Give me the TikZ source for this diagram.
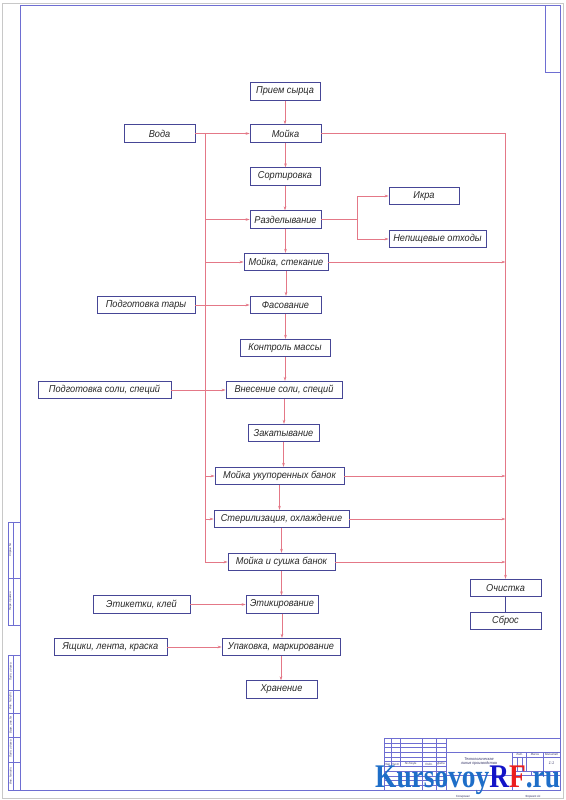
\documentclass[tikz,border=0pt]{standalone}
\usepackage{fontspec}
\setmainfont{Liberation Sans}
\newfontfamily\gost[FakeStretch=0.92]{Liberation Sans}
\newfontfamily\wmfont{Liberation Serif}
\usetikzlibrary{arrows.meta}
\definecolor{boxc}{RGB}{70,70,150}
\definecolor{linec}{RGB}{228,120,135}
\definecolor{framec}{RGB}{110,110,210}
\definecolor{txtc}{RGB}{40,40,40}
\definecolor{sheetc}{RGB}{200,200,200}
\definecolor{wmblue}{RGB}{30,110,200}
\definecolor{wmdark}{RGB}{20,20,200}
\definecolor{wmred}{RGB}{235,30,30}
\begin{document}
\begin{tikzpicture}[x=1pt,y=-1pt,
 blk/.style={draw=boxc,line width=0.7pt,minimum height=17.5pt,inner sep=0pt,
   font=\gost\itshape\fontsize{10}{10}\selectfont,text=txtc},
 flow/.style={draw=linec,line width=0.6pt},
 arr/.style={flow,-{Stealth[length=4pt,width=2.6pt]}},
 frm/.style={draw=framec,line width=0.8pt},
 thn/.style={draw=framec,line width=0.4pt},
 tiny/.style={font=\gost\itshape\fontsize{3}{3}\selectfont,text=framec!50!black,inner sep=0pt},
 small/.style={font=\gost\itshape\fontsize{4}{4}\selectfont,text=framec!50!black,inner sep=0pt}]
\useasboundingbox (0,0) rectangle (565,800);
\fill[white] (0,0) rectangle (565,800);
% sheet edge and frame
\draw[sheetc,line width=0.5pt] (2,3) rectangle (563,798);
\draw[frm] (20,5) rectangle (560,790);
\draw[frm] (545,5) rectangle (560,72);
% left margin strip
\draw[frm] (8,522) rectangle (20,625);
\draw[thn] (13,522) -- (13,625);
\draw[frm] (8,578) -- (20,578);
\draw[frm] (8,655) rectangle (20,790);
\draw[thn] (13,655) -- (13,790);
\foreach \yy in {690,713,737,762} \draw[frm] (8,\yy) -- (20,\yy);
\node[tiny,rotate=90] (s1) at (10.5,550) {Справ. №};
\node[tiny,rotate=90] (s2) at (10.5,601) {Перв. примен.};
\node[tiny,rotate=90] (s3) at (10.5,672) {Подп. и дата};
\node[tiny,rotate=90] (s4) at (10.5,701) {Инв. № дубл.};
\node[tiny,rotate=90] (s5) at (10.5,725) {Взам. инв. №};
\node[tiny,rotate=90] (s6) at (10.5,749) {Подп. и дата};
\node[tiny,rotate=90] (s7) at (10.5,776) {Инв. № подл.};
% title block
\draw[frm] (384,738) rectangle (560,790);
\draw[frm] (446,738) -- (446,790);
\foreach \k in {1,...,10} \draw[thn] (384,{738+\k*4.727}) -- (446,{738+\k*4.727});
\draw[frm] (384,761.6) -- (446,761.6);
\draw[frm] (384,766.4) -- (446,766.4);
\foreach \xx in {391,400} \draw[frm] (\xx,738) -- (\xx,766.4);
\foreach \xx in {422,436} \draw[frm] (\xx,738) -- (\xx,790);
\draw[frm] (446,752.2) -- (560,752.2);
\draw[frm] (446,775.8) -- (560,775.8);
\draw[frm] (512.5,752.2) -- (512.5,790);
\draw[frm] (512.5,756.9) -- (560,756.9);
\draw[frm] (512.5,771.1) -- (560,771.1);
\draw[frm] (526.8,752.2) -- (526.8,771.1);
\draw[frm] (543,752.2) -- (543,771.1);
\draw[thn] (517.3,756.9) -- (517.3,771.1);
\draw[thn] (522.1,756.9) -- (522.1,771.1);
\draw[frm] (531.5,771.1) -- (531.5,775.8);
\node[tiny] (h1) at (387.5,764) {Изм.};
\node[tiny] (h2) at (395.5,764) {Лист};
\node[tiny] (h3) at (411,764) {№ докум.};
\node[tiny] (h4) at (429,764) {Подп.};
\node[tiny] (h5) at (441,764) {Дата};
\node[tiny] (l1) at (519.6,754.6) {Лит.};
\node[tiny] (l2) at (534.9,754.6) {Масса};
\node[tiny] (l3) at (551.5,754.6) {Масштаб};
\node[small] (l4) at (551.5,763) {1:1};
\node[small,align=center] (nm) at (479,762) {Технологическая\\линия производства};
\node[tiny] (kop) at (463,797) {Копировал};
\node[tiny] (fmt) at (533,797) {Формат А1};
% process boxes
\node[blk,minimum width=70pt] (priem) at (285,91.5) {Прием сырца};
\node[blk,minimum width=71pt] (moika) at (285.5,133.5) {Мойка};
\node[blk,minimum width=71pt] (voda) at (159.5,133.5) {Вода};
\node[blk,minimum width=70pt] (sort) at (285,176.5) {Сортировка};
\node[blk,minimum width=71pt] (razd) at (285.5,219.5) {Разделывание};
\node[blk,minimum width=70pt] (ikra) at (424,196) {Икра};
\node[blk,minimum width=97pt] (nepish) at (437.5,239) {Непищевые отходы};
\node[blk,minimum width=84pt] (moikast) at (286,262) {Мойка, стекание};
\node[blk,minimum width=98pt] (podtary) at (146,305) {Подготовка тары};
\node[blk,minimum width=71pt] (fasov) at (285.5,305) {Фасование};
\node[blk,minimum width=90pt] (kontrol) at (285,348) {Контроль массы};
\node[blk,minimum width=133pt] (podsoli) at (104.5,390) {Подготовка соли, специй};
\node[blk,minimum width=116pt] (vnes) at (284,390) {Внесение соли, специй};
\node[blk,minimum width=71pt] (zakat) at (283.5,433) {Закатывание};
\node[blk,minimum width=129pt] (moikaukup) at (279.5,476) {Мойка укупоренных банок};
\node[blk,minimum width=135pt] (steril) at (281.5,519) {Стерилизация, охлаждение};
\node[blk,minimum width=107pt] (moikasush) at (281.5,562) {Мойка и сушка банок};
\node[blk,minimum width=72pt] (etikir) at (282,604.5) {Этикирование};
\node[blk,minimum width=97pt] (etiket) at (141.5,604.5) {Этикетки, клей};
\node[blk,minimum width=118pt] (upak) at (281,647) {Упаковка, маркирование};
\node[blk,minimum width=113pt] (yashik) at (110.5,647) {Ящики, лента, краска};
\node[blk,minimum width=71pt] (hran) at (281.5,689.5) {Хранение};
\node[blk,minimum width=71pt] (ochist) at (505.5,588) {Очистка};
\node[blk,minimum width=71pt] (sbros) at (505.5,621) {Сброс};
% main chain
\foreach \a/\b in {priem/moika,moika/sort,sort/razd,razd/moikast,moikast/fasov,fasov/kontrol,kontrol/vnes,vnes/zakat,zakat/moikaukup,moikaukup/steril,steril/moikasush,moikasush/etikir,etikir/upak,upak/hran}
  \draw[arr] (\a.south) -- (\a.south |- \b.north);
% side inputs
\draw[arr] (voda) -- (moika);
\draw[arr] (podtary) -- (fasov);
\draw[arr] (podsoli) -- (vnes);
\draw[arr] (etiket) -- (etikir);
\draw[arr] (yashik) -- (upak);
% water distribution line
\coordinate (lt) at (205,133.5);
\coordinate (lb) at (205,562);
\draw[flow] (lt) -- (lb);
\foreach \n in {razd,moikast,moikaukup,steril}
  \draw[arr] (\n.west -| lt) -- (\n.west);
\draw[arr] (lb) -- (moikasush.west);
% waste water line
\draw[arr] (moika.east) -| (ochist.north);
\foreach \n in {moikast,moikaukup,steril,moikasush}
  \draw[arr] (\n.east) -- (\n.east -| ochist.north);
\draw[draw=boxc,line width=0.7pt] (ochist) -- (sbros);
% cutting outputs
\coordinate (rb) at (357,219.5);
\draw[flow] (razd.east) -- (rb);
\draw[flow] (rb |- ikra.west) -- (rb |- nepish.west);
\draw[arr] (rb |- ikra.west) -- (ikra.west);
\draw[arr] (rb |- nepish.west) -- (nepish.west);
% watermark
\node[anchor=base west,inner sep=0pt] (wm) at (375,787)
  {\scalebox{0.83}[1]{\wmfont\bfseries\fontsize{33}{33}\selectfont\textcolor{wmblue}{Kursovoy}\textcolor{wmdark}{R}\textcolor{wmred}{F}\textcolor{wmblue}{.ru}}};
\end{tikzpicture}
\end{document}
